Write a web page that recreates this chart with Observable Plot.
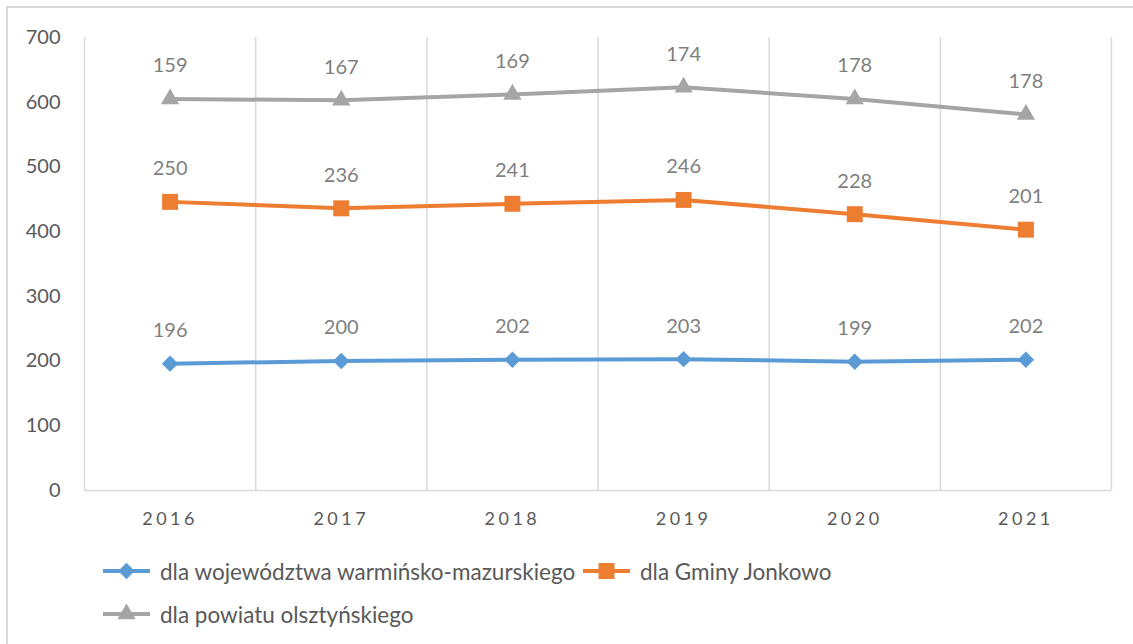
<!DOCTYPE html>
<html><head><meta charset="utf-8">
<script src="https://cdn.jsdelivr.net/npm/d3@7"></script>
<script src="https://cdn.jsdelivr.net/npm/@observablehq/plot@0.6"></script>
<style>
body{margin:0;background:#fff;font-family:Lato,"Open Sans",sans-serif;width:1133px;height:644px;overflow:hidden;position:relative;}
#frame{position:absolute;left:6px;top:6px;width:1200px;height:700px;border:2px solid #d9d9d9;box-sizing:border-box;}
#chart{position:absolute;left:0;top:0;}
#chart g[aria-label="x-axis tick label"] text{letter-spacing:3.5px;}
.item{position:absolute;display:flex;align-items:center;height:30px;font-size:22.5px;color:#595959;white-space:nowrap;}
.item svg{margin-right:10px;}
</style>
</head><body>
<div id="frame"></div>
<div id="chart"></div>
<div id="legend"></div>
<script>
const years = [2016, 2017, 2018, 2019, 2020, 2021];
const seriesNames = ["dla województwa warmińsko-mazurskiego", "dla Gminy Jonkowo", "dla powiatu olsztyńskiego"];
const wojewodztwo = [196, 200, 202, 203, 199, 202];
const gmina = [250, 236, 241, 246, 228, 201];
const powiat = [159, 167, 169, 174, 178, 178];
const colors = ["#5B9BD5", "#ED7D31", "#A5A5A5"];
const symbols = ["diamond2", "square", "triangle"];
const yTicks = [0, 100, 200, 300, 400, 500, 600, 700];

const seriesValues = [wojewodztwo, gmina, powiat];
const markerR = {};
seriesNames.forEach((s, i) => markerR[s] = [7.4, 9, 6.8][i]);
const data = seriesNames.flatMap((s, i) => years.map((y, j) => ({series: s, year: y, value: seriesValues[i][j]})));
const bounds = years.map(y => y - 0.5).concat([years[years.length - 1] + 0.5]);

const chart = Plot.plot({
  width: 1133, height: 540,
  marginTop: 37, marginBottom: 50, marginLeft: 84, marginRight: 22,
  x: {domain: [bounds[0], bounds[bounds.length - 1]], label: null},
  y: {domain: [0, 700], label: null},
  color: {domain: seriesNames, range: colors},
  symbol: {domain: seriesNames, range: symbols},
  r: {type: "identity"},
  style: {fontFamily: "Lato, 'Open Sans', sans-serif", background: "transparent", overflow: "visible"},
  marks: [
    Plot.ruleX(bounds, {stroke: "#d9d9d9", strokeWidth: 1.5}),
    Plot.ruleY([0], {stroke: "#d9d9d9", strokeWidth: 1.5}),
    Plot.axisY({ticks: yTicks, tickSize: 0, tickPadding: 24, fontSize: 20, fill: "#595959"}),
    Plot.axisX({ticks: years, tickFormat: d => String(d), tickSize: 0, tickPadding: 22, fontSize: 18, fill: "#595959"}),
    Plot.line(data, Plot.stackY2({x: "year", y: "value", z: "series", stroke: "series", strokeWidth: 4})),
    Plot.dot(data, Plot.stackY2({x: "year", y: "value", z: "series", fill: "series", symbol: "series", r: d => markerR[d.series], stroke: null})),
    Plot.text(data, Plot.stackY2({x: "year", y: "value", z: "series", text: "value", dy: -33, fill: "#7f7f7f", fontSize: 20}))
  ]
});
document.getElementById("chart").appendChild(chart);

// legend
const legendPos = [[103, 556], [583, 556], [103, 599]];
const legend = document.getElementById("legend");
seriesNames.forEach((s, i) => {
  const div = document.createElement("div");
  div.className = "item";
  div.style.left = legendPos[i][0] + "px";
  div.style.top = legendPos[i][1] + "px";
  const sym = d3.symbol(i === 0 ? d3.symbolDiamond2 : i === 1 ? d3.symbolSquare : d3.symbolTriangle, Math.PI * markerR[s] ** 2)();
  div.innerHTML = `<svg width="47" height="30"><line x1="0" x2="47" y1="15" y2="15" stroke="${colors[i]}" stroke-width="4"/><path transform="translate(23.5,15)" d="${sym}" fill="${colors[i]}"/></svg><span>${s}</span>`;
  legend.appendChild(div);
});
</script>
</body></html>
